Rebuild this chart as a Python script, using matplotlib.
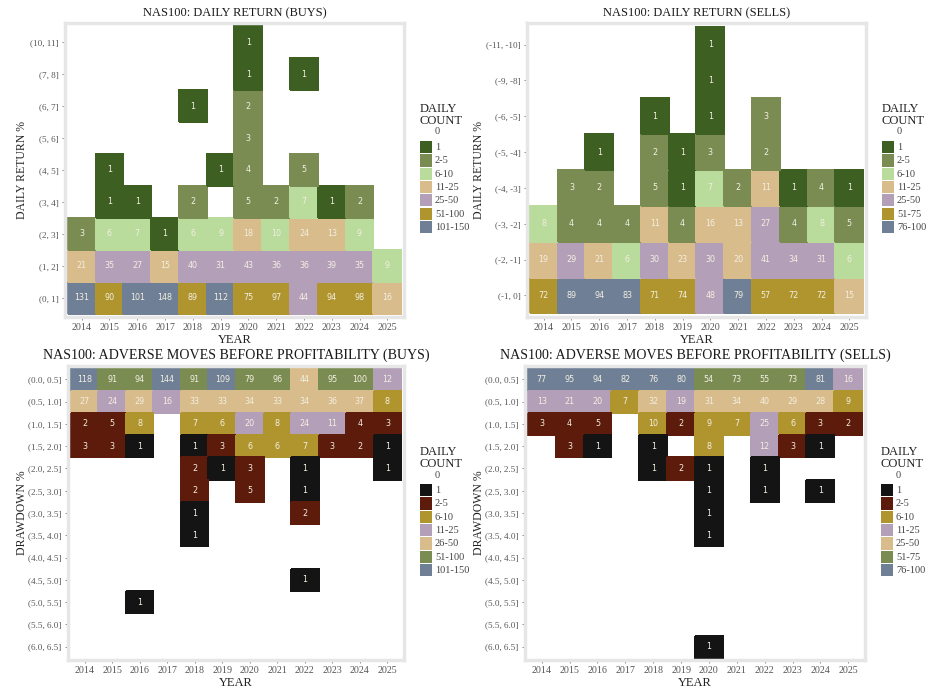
import numpy as np
import matplotlib
matplotlib.use("Agg")
import matplotlib.pyplot as plt
from matplotlib.colors import ListedColormap, BoundaryNorm
from matplotlib.patches import Rectangle

years = ["2014", "2015", "2016", "2017", "2018", "2019", "2020", "2021", "2022", "2023", "2024", "2025"]
N = None

# --- daily return, buys (rows bottom -> top)
buy_ret_rows = ["(0, 1]", "(1, 2]", "(2, 3]", "(3, 4]", "(4, 5]", "(5, 6]", "(6, 7]", "(7, 8]", "(10, 11]"]
buy_ret = [
    [131, 90, 101, 148, 89, 112, 75, 97, 44, 94, 98, 16],
    [21, 35, 27, 15, 40, 31, 43, 36, 36, 39, 35, 9],
    [3, 6, 7, 1, 6, 9, 18, 10, 24, 13, 9, N],
    [N, 1, 1, N, 2, N, 5, 2, 7, 1, 2, N],
    [N, 1, N, N, N, 1, 4, N, 5, N, N, N],
    [N, N, N, N, N, N, 3, N, N, N, N, N],
    [N, N, N, N, 1, N, 2, N, N, N, N, N],
    [N, N, N, N, N, N, 1, N, 1, N, N, N],
    [N, N, N, N, N, N, 1, N, N, N, N, N],
]

# --- daily return, sells (rows bottom -> top)
sell_ret_rows = ["(-1, 0]", "(-2, -1]", "(-3, -2]", "(-4, -3]", "(-5, -4]", "(-6, -5]", "(-9, -8]", "(-11, -10]"]
sell_ret = [
    [72, 89, 94, 83, 71, 74, 48, 79, 57, 72, 72, 15],
    [19, 29, 21, 6, 30, 23, 30, 20, 41, 34, 31, 6],
    [8, 4, 4, 4, 11, 4, 16, 13, 27, 4, 8, 5],
    [N, 3, 2, N, 5, 1, 7, 2, 11, 1, 4, 1],
    [N, N, 1, N, 2, 1, 3, N, 2, N, N, N],
    [N, N, N, N, 1, N, 1, N, 3, N, N, N],
    [N, N, N, N, N, N, 1, N, N, N, N, N],
    [N, N, N, N, N, N, 1, N, N, N, N, N],
]

# --- drawdown rows (top -> bottom)
dd_rows = ["(0.0, 0.5]", "(0.5, 1.0]", "(1.0, 1.5]", "(1.5, 2.0]", "(2.0, 2.5]", "(2.5, 3.0]", "(3.0, 3.5]",
           "(3.5, 4.0]", "(4.0, 4.5]", "(4.5, 5.0]", "(5.0, 5.5]", "(5.5, 6.0]", "(6.0, 6.5]"]
buy_dd = [
    [118, 91, 94, 144, 91, 109, 79, 96, 44, 95, 100, 12],
    [27, 24, 29, 16, 33, 33, 34, 33, 34, 36, 37, 8],
    [2, 5, 8, N, 7, 6, 20, 8, 24, 11, 4, 3],
    [3, 3, 1, N, 1, 3, 6, 6, 7, 3, 2, 1],
    [N, N, N, N, 2, 1, 3, N, 1, N, N, 1],
    [N, N, N, N, 2, N, 5, N, 1, N, N, N],
    [N, N, N, N, 1, N, N, N, 2, N, N, N],
    [N, N, N, N, 1, N, N, N, N, N, N, N],
    [N, N, N, N, N, N, N, N, N, N, N, N],
    [N, N, N, N, N, N, N, N, 1, N, N, N],
    [N, N, 1, N, N, N, N, N, N, N, N, N],
    [N, N, N, N, N, N, N, N, N, N, N, N],
    [N, N, N, N, N, N, N, N, N, N, N, N],
]
sell_dd = [
    [77, 95, 94, 82, 76, 80, 54, 73, 55, 73, 81, 16],
    [13, 21, 20, 7, 32, 19, 31, 34, 40, 29, 28, 9],
    [3, 4, 5, N, 10, 2, 9, 7, 25, 6, 3, 2],
    [N, 3, 1, N, 1, N, 8, N, 12, 3, 1, N],
    [N, N, N, N, 1, 2, 1, N, 1, N, N, N],
    [N, N, N, N, N, N, 1, N, 1, N, 1, N],
    [N, N, N, N, N, N, 1, N, N, N, N, N],
    [N, N, N, N, N, N, 1, N, N, N, N, N],
    [N, N, N, N, N, N, N, N, N, N, N, N],
    [N, N, N, N, N, N, N, N, N, N, N, N],
    [N, N, N, N, N, N, N, N, N, N, N, N],
    [N, N, N, N, N, N, N, N, N, N, N, N],
    [N, N, N, N, N, N, 1, N, N, N, N, N],
]

bins_150 = [0.5, 1.5, 5.5, 10.5, 25.5, 50.5, 100.5, 150.5]
bins_100 = [0.5, 1.5, 5.5, 10.5, 25.5, 50.5, 75.5, 100.5]
ret_colors = ["#3e5f22", "#7b8c53", "#b9db9b", "#d8bc8b", "#b49fb8", "#b0952f", "#6f7f95"]
dd_colors = ["#141414", "#5c1b0b", "#b0952f", "#b49fb8", "#d8bc8b", "#7b8c53", "#6f7f95"]

serif = "Liberation Serif"
W, H = 928, 688
fig = plt.figure(figsize=(W / 100, H / 100), dpi=100)


def fx(x):
    return x / W


def fy(y):
    return 1 - y / H


def panel(box, data, rows, bins, colors, labels, title, tsize, ylabel, ylab_x, invert):
    x0, y0, x1, y1 = box
    ax = fig.add_axes([fx(x0), fy(y1), (x1 - x0) / W, (y1 - y0) / H])
    arr = np.array([[np.nan if v is None else v for v in r] for r in data], dtype=float)
    cmap = ListedColormap(colors)
    norm = BoundaryNorm(bins, cmap.N)
    xe = np.arange(len(years) + 1) - 0.5
    ye = np.arange(len(rows) + 1) - 0.5
    ax.pcolormesh(xe, ye, np.ma.masked_invalid(arr), cmap=cmap, norm=norm,
                  edgecolors="face", linewidth=0.3)
    for i in range(arr.shape[0]):
        for j in range(arr.shape[1]):
            if not np.isnan(arr[i, j]):
                ax.text(j, i, "%d" % arr[i, j], ha="center", va="center",
                        fontsize=5.8, color="#f3efe2", family="DejaVu Sans")
    ax.set_xlim(-0.6, len(years) - 0.4)
    if invert:
        ax.set_ylim(len(rows) - 0.4, -0.6)
    else:
        ax.set_ylim(-0.6, len(rows) - 0.4)
    ax.set_xticks(range(len(years)))
    ax.set_xticklabels(years, family=serif, fontsize=7.2, color="#555555")
    ax.set_yticks(range(len(rows)))
    ax.set_yticklabels(rows, family=serif, fontsize=6.6, color="#555555")
    ax.tick_params(length=2.5, width=0.6, color="#777777", pad=2)
    for s in ax.spines.values():
        s.set_color("#e6e6e6")
        s.set_linewidth(2.5)
    ax.set_title(title, family=serif, fontsize=tsize, color="#1a1a1a", pad=5)
    ax.set_xlabel("YEAR", family=serif, fontsize=9, color="#222222", labelpad=1)
    ax.set_ylabel(ylabel, family=serif, fontsize=8.5, color="#222222")
    ax.yaxis.set_label_coords((ylab_x - x0) / (x1 - x0), 0.5)

    # legend, drawn by hand in pixel space
    lx = x1 + 16
    fig.text(fx(lx), fy(y0 + 80), "DAILY\nCOUNT", family=serif, fontsize=9,
             color="#222222", va="top", ha="left", linespacing=1.0)
    ky = y0 + 118
    kh = 13.3
    fig.text(fx(lx + 17), fy(ky - 9), "0", family=serif, fontsize=7.5,
             color="#444444", va="center", ha="center")
    for k, (c, lab) in enumerate(zip(colors, labels)):
        top = ky + k * kh
        fig.add_artist(Rectangle((fx(lx), fy(top + kh - 1)), 12 / W, (kh - 1) / H,
                                 transform=fig.transFigure, facecolor=c, edgecolor="none"))
        fig.text(fx(lx + 15), fy(top + kh / 2), lab, family=serif, fontsize=7.5,
                 color="#444444", va="center", ha="left")
    return ax


panel((65, 23, 404, 317), buy_ret, buy_ret_rows, bins_150, ret_colors,
      ["1", "2-5", "6-10", "11-25", "25-50", "51-100", "101-150"],
      "NAS100: DAILY RETURN (BUYS)", 8.9, "DAILY RETURN %", 28, False)
panel((527, 23, 866, 317), sell_ret, sell_ret_rows, bins_100, ret_colors,
      ["1", "2-5", "6-10", "11-25", "25-50", "51-75", "76-100"],
      "NAS100: DAILY RETURN (SELLS)", 8.9, "DAILY RETURN %", 485, False)
panel((68, 366, 404, 660), buy_dd, dd_rows, bins_150, dd_colors,
      ["1", "2-5", "6-10", "11-25", "26-50", "51-100", "101-150"],
      "NAS100: ADVERSE MOVES BEFORE PROFITABILITY (BUYS)", 10.1, "DRAWDOWN %", 28, True)
panel((525, 366, 865, 660), sell_dd, dd_rows, bins_100, dd_colors,
      ["1", "2-5", "6-10", "11-25", "25-50", "51-75", "76-100"],
      "NAS100: ADVERSE MOVES BEFORE PROFITABILITY (SELLS)", 10.1, "DRAWDOWN %", 485, True)

fig.savefig("out.png", dpi=100, facecolor="white")
